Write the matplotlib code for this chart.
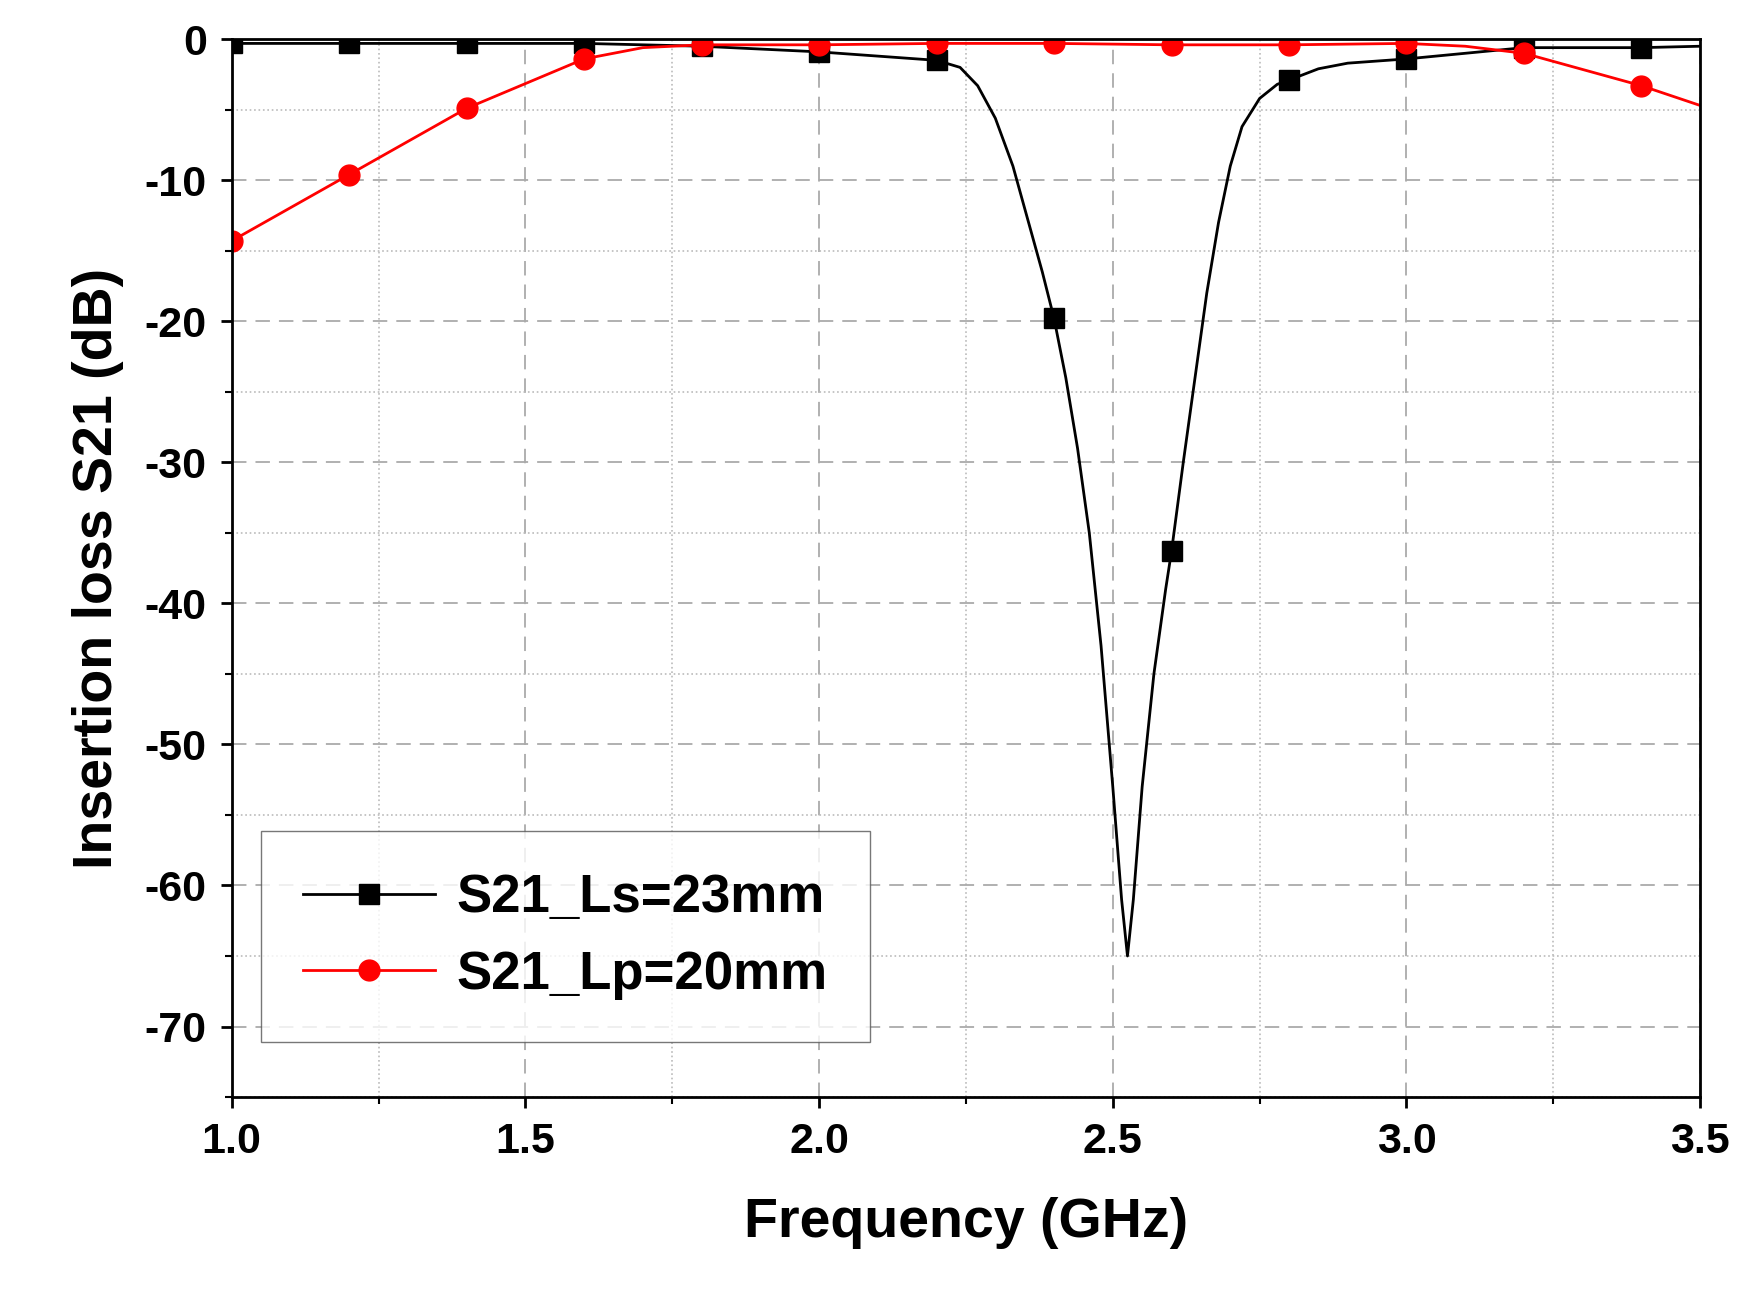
import matplotlib
matplotlib.use("Agg")
import matplotlib.pyplot as plt
from matplotlib.ticker import MultipleLocator

f_mark = [1.0,1.2,1.4,1.6,1.8,2.0,2.2,2.4,2.6,2.8,3.0,3.2,3.4]
s21_ls_mark = [-0.3,-0.3,-0.3,-0.3,-0.5,-0.9,-1.5,-19.8,-36.3,-2.9,-1.4,-0.6,-0.6]
f_ls = [1.0,1.2,1.4,1.6,1.8,2.0,2.2,2.24,2.27,2.3,2.33,2.36,2.38,2.4,2.42,2.44,2.46,2.48,2.5,2.515,2.525,2.535,2.55,2.57,2.59,2.6,2.62,2.64,2.66,2.68,2.7,2.72,2.75,2.78,2.8,2.85,2.9,3.0,3.2,3.4,3.5]
s21_ls = [-0.3,-0.3,-0.3,-0.3,-0.5,-0.9,-1.5,-2.0,-3.3,-5.6,-9.0,-13.5,-16.5,-19.8,-24,-29,-35,-43,-53,-61,-65,-61,-53,-45,-39,-36.3,-30,-24,-18,-13,-9,-6.2,-4.2,-3.2,-2.9,-2.1,-1.7,-1.4,-0.6,-0.6,-0.5]
s21_lp_mark = [-14.3,-9.6,-4.9,-1.4,-0.4,-0.4,-0.3,-0.3,-0.4,-0.4,-0.3,-1.0,-3.3]
f_lp = [1.0,1.2,1.4,1.6,1.7,1.8,2.0,2.2,2.4,2.6,2.8,3.0,3.1,3.2,3.4,3.5]
s21_lp = [-14.3,-9.6,-4.9,-1.4,-0.6,-0.4,-0.4,-0.3,-0.3,-0.4,-0.4,-0.3,-0.5,-1.0,-3.3,-4.7]

plt.rcParams['font.family'] = ['Liberation Sans', 'DejaVu Sans']
plt.rcParams['font.weight'] = 'bold'
plt.rcParams['axes.unicode_minus'] = False
fig = plt.figure(figsize=(17.42, 13.06), dpi=100)
ax = fig.add_axes([0.133, 0.16, 0.843, 0.81])
ax.plot(f_ls, s21_ls, color='black', lw=2)
ax.plot(f_mark, s21_ls_mark, 's', color='black', ms=14)
ax.plot(f_lp, s21_lp, color='red', lw=2)
ax.plot(f_mark, s21_lp_mark, 'o', color='red', ms=15)
ax.plot([], [], 's-', color='black', ms=14, lw=2, label='S21_Ls=23mm')
ax.plot([], [], 'o-', color='red', ms=15, lw=2, label='S21_Lp=20mm')
ax.set_xlim(1.0, 3.5)
ax.set_ylim(-75, 0)
ax.xaxis.set_major_locator(MultipleLocator(0.5))
ax.xaxis.set_minor_locator(MultipleLocator(0.25))
ax.yaxis.set_major_locator(MultipleLocator(10))
ax.yaxis.set_minor_locator(MultipleLocator(5))
ax.grid(which='major', ls=(0, (8, 5)), color='#aaaaaa', lw=1.3)
ax.grid(which='minor', ls=':', color='#bbbbbb', lw=1.2)
ax.set_axisbelow(True)
ax.tick_params(which='major', length=8, width=2, labelsize=31, pad=10)
ax.tick_params(which='minor', length=5, width=1.5)
for s in ax.spines.values():
    s.set_linewidth(2)
ax.set_xlabel('Frequency (GHz)', fontsize=40, fontweight='bold', labelpad=25)
ax.set_ylabel('Insertion loss S21 (dB)', fontsize=40, fontweight='bold', labelpad=15)
leg = ax.legend(loc='lower left', bbox_to_anchor=(0.02, 0.052), fontsize=38, frameon=True,
                fancybox=False, edgecolor='#555555', handlelength=2.5, handletextpad=0.4,
                borderpad=0.8, borderaxespad=0)
for t in leg.get_texts():
    t.set_fontweight('bold')
fig.savefig('out.png', dpi=100)
